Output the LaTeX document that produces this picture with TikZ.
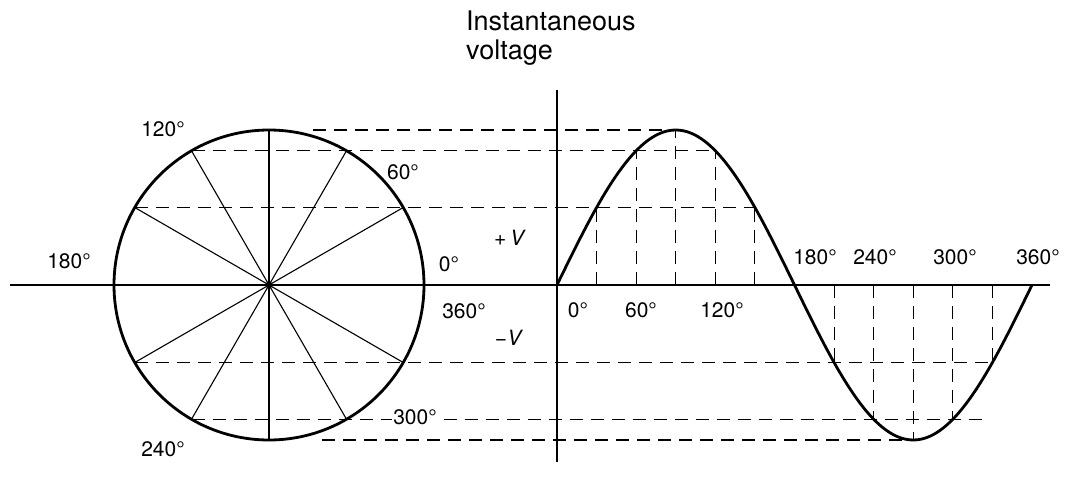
\documentclass[tikz,border=0pt]{standalone}
\usepackage{fontspec}
\setmainfont{TeX Gyre Heros}
\begin{document}
\begin{tikzpicture}[x=1pt,y=-1pt,
  thickline/.style={line width=2.8pt},
  spoke/.style={line width=1.1pt},
  axisline/.style={line width=1.3pt},
  dashline/.style={line width=1.1pt, dash pattern=on 13pt off 8pt},
  lbl/.style={font=\fontsize{21}{24}\selectfont, inner sep=1pt},
  title/.style={font=\fontsize{27}{30}\selectfont, inner sep=0pt, anchor=base west},
]
\useasboundingbox (0,0) rectangle (1074,477);
\coordinate (C) at (269,285);
\foreach \a in {0,30,...,330} {
  \coordinate (P\a) at ({269+155*cos(\a)},{285-155*sin(\a)});
  \coordinate (S\a) at ({557+\a*1.31944},{285-155*sin(\a)});
  \coordinate (A\a) at ({557+\a*1.31944},285);
}
\coordinate (axL) at (10,285);
\coordinate (axR) at (1050,285);
\coordinate (vaT) at (557,90);
\coordinate (vaB) at (557,462);
\coordinate (d90) at (313,130);
\coordinate (d270) at (322,440);
\coordinate (e240) at (989,{285+155*sin(60)});

% axes
\draw[axisline] (axL) -- (axR);
\draw[axisline] (vaT) -- (vaB);

% dashed projection lines
\draw[dashline] (d90) -- (S90);
\draw[dashline] (P120) -- (S120);
\draw[dashline] (P150) -- (S150);
\draw[dashline] (P210) -- (S330);
\draw[dashline] (P240) -- (e240);
\draw[dashline] (d270) -- (S270);
\foreach \a in {30,60,90,120,150,210,240,270,300,330}
  \draw[dashline] (A\a) -- (S\a);

% circle and spokes
\foreach \a in {30,60,120,150,210,240,300,330}
  \draw[spoke] (C) -- (P\a);
\draw[spoke] (P90) -- (P270);
\draw[thickline] (C) circle (155);
\fill (C) circle (3.5);

% sine wave
\draw[thickline, line join=round] plot[domain=0:360, samples=121, smooth]
  ({557+\x*1.31944},{285-155*sin(\x)});

% labels
\node[lbl] (l120) at (163,129) {120°};
\node[lbl] (l60) at (403,172) {60°};
\node[lbl] (l0) at (449,264) {0°};
\node[lbl] (l360) at (464,311) {360°};
\node[lbl] (l180) at (69,261) {180°};
\node[lbl] (l240) at (163,449) {240°};
\node[lbl, fill=white] (l300) at (415,417) {300°};
\node[lbl] (pV) at (510,238) {+\,\textit{V}};
\node[lbl] (mV) at (509,338) {−\textit{V}};
\node[lbl] (s0) at (578,310) {0°};
\node[lbl] (s60) at (641,310) {60°};
\node[lbl] (s120) at (722,310) {120°};
\node[lbl] (s180) at (815,257) {180°};
\node[lbl] (s240) at (875,257) {240°};
\node[lbl] (s300) at (955,257) {300°};
\node[lbl] (s360) at (1038,257) {360°};
\node[title] (t1) at (466,30) {Instantaneous};
\node[title] (t2) at (466,59) {voltage};
\end{tikzpicture}
\end{document}
